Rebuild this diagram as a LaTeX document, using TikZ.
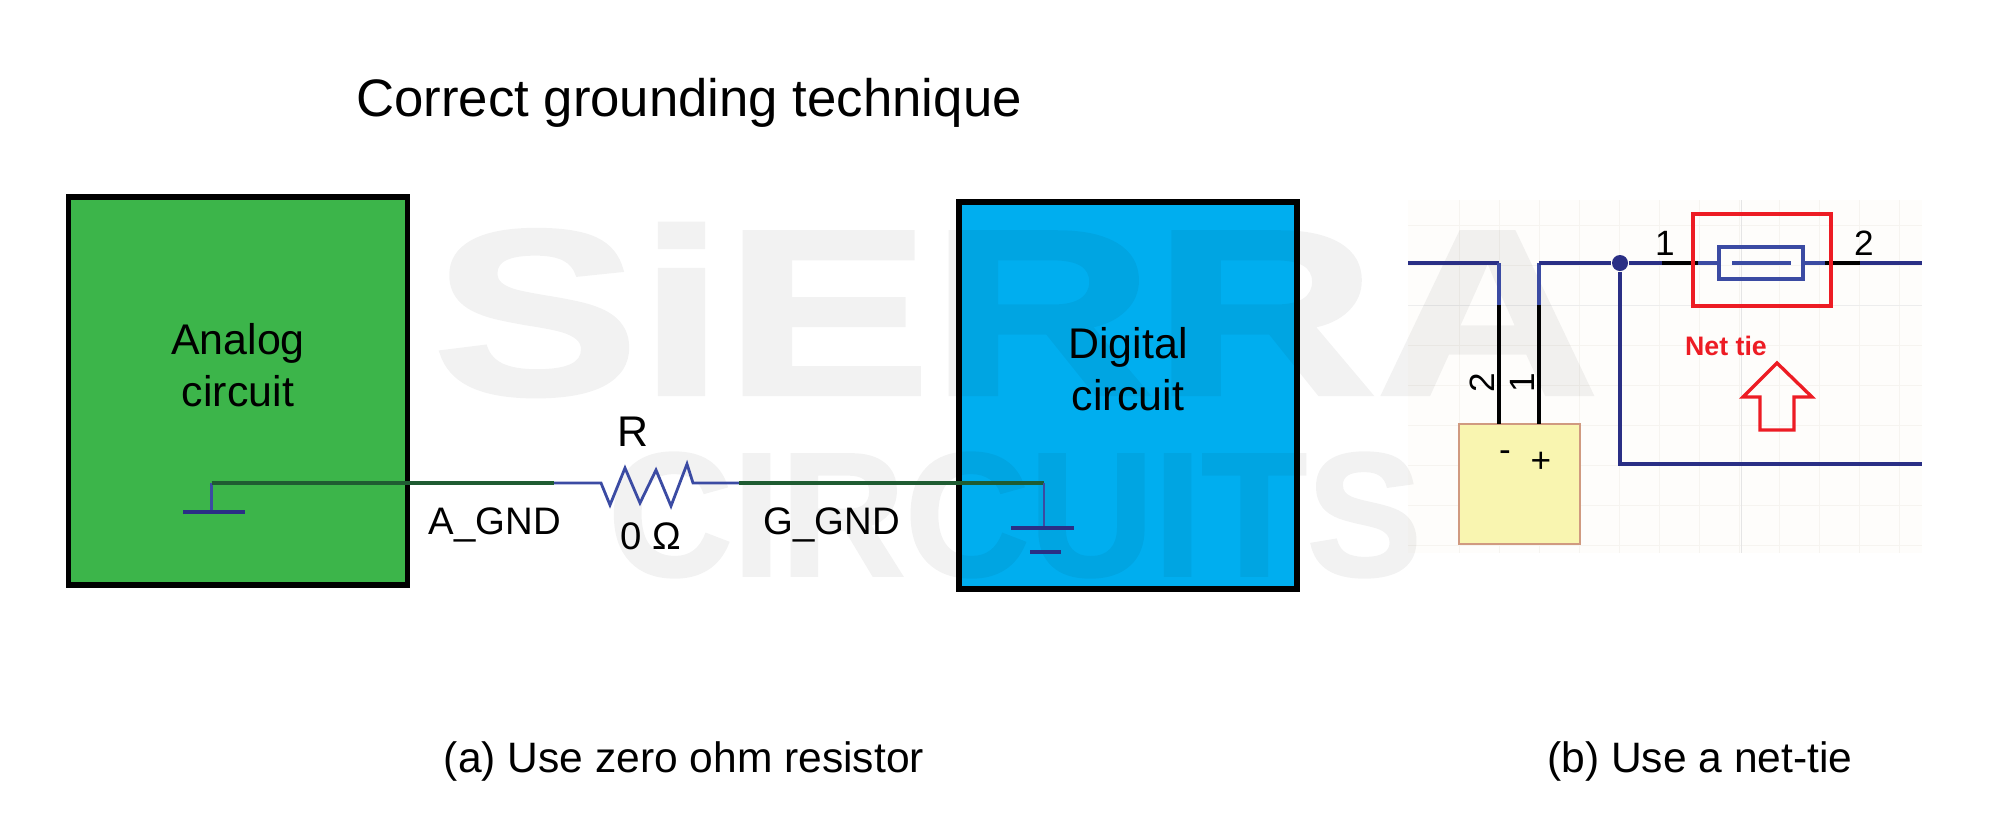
\documentclass[tikz,border=0pt]{standalone}
\usepackage{fontspec}
\usepackage{xcolor}
\setmainfont{Liberation Sans}
\newfontfamily\markfont[FakeBold=1.6,UprightFont={* Bold}]{Liberation Sans}
\definecolor{boxgreen}{HTML}{3CB54A}
\definecolor{boxblue}{HTML}{00AEEF}
\definecolor{wiregreen}{HTML}{1F5C32}
\definecolor{wireblue}{HTML}{3B4BA3}
\definecolor{navy}{HTML}{2A2F85}
\definecolor{tiered}{HTML}{ED1C24}
\definecolor{partyellow}{HTML}{F9F5B0}
\definecolor{parttan}{HTML}{D09A80}
\definecolor{panelbg}{HTML}{FEFDFB}
\definecolor{panelgrid}{HTML}{F6F4F0}
\begin{document}
\begin{tikzpicture}[x=0.01cm, y=-0.01cm,
    blockbox/.style={draw=black, line width=1.5pt, outer sep=0pt, inner sep=0pt},
    bodytext/.style={font=\fontsize{12.2}{14.6}\selectfont, inner sep=0pt, align=center},
    nettext/.style={font=\fontsize{10.9}{13}\selectfont, inner sep=0pt},
    pintext/.style={font=\fontsize{10}{12}\selectfont, inner sep=0pt},
    watermark/.style={inner sep=0pt, transform shape},
    gwire/.style={wiregreen, line width=0.9pt},
    bwire/.style={wireblue, line width=0.8pt, line join=miter},
    nwire/.style={navy, line width=1.1pt},
    lwire/.style={wireblue, line width=1.1pt},
    kwire/.style={black, line width=1pt}]
    \useasboundingbox (0,0) rectangle (1996,835);

    % Blocks
    \node[blockbox, fill=boxgreen, minimum width=3.39cm, minimum height=3.88cm] (analog) at (238,391) {};
    \node[blockbox, fill=boxblue, minimum width=3.38cm, minimum height=3.87cm] (digital) at (1128,395.5) {};

    % Schematic panel
    \fill[panelbg] (1408,200) rectangle (1922,553);
    \foreach \x in {1459,1499,...,1899}
        \draw[panelgrid, line width=0.25pt] (\x,200) -- (\x,553);
    \foreach \y in {225,265,...,545}
        \draw[panelgrid, line width=0.25pt] (1408,\y) -- (1922,\y);
    \draw[black!10, line width=0.25pt] (1741,200) -- (1741,553);
    \draw[black!7, line width=0.25pt] (1408,305) -- (1922,305);

    % Background lettering
    \begin{scope}[transparency group, opacity=0.05]
        \node[watermark, xscale=1.31, font=\fontsize{67}{67}\markfont] (sierra) at (1016,310) {SiERRA};
        \node[watermark, xscale=0.98, font=\fontsize{50}{50}\markfont] (circuits) at (1015,515) {CIRCUITS};
    \end{scope}

    % Texts
    \node[font=\fontsize{15}{18}\selectfont, inner sep=0pt] (title) at (689,103) {Correct grounding technique};
    \node[bodytext] (analogtext) at (238,365) {Analog\\circuit};
    \node[bodytext] (digitaltext) at (1128,369) {Digital\\circuit};
    \node[bodytext] (rname) at (633,432) {R};
    \node[nettext] (rvalue) at (651,536) {0 Ω};
    \node[nettext] (agndtext) at (495,525) {A\_GND};
    \node[nettext] (ggndtext) at (832,525) {G\_GND};
    \node[bodytext, font=\fontsize{12.1}{14.6}\selectfont] (capa) at (684,761) {(a) Use zero ohm resistor};
    \node[bodytext, font=\fontsize{12.1}{14.6}\selectfont] (capb) at (1700,761) {(b) Use a net-tie};

    % Zero ohm link
    \coordinate (agnd) at (211.5,483);
    \coordinate (agndbar) at (211.5,512);
    \coordinate (rleft) at (554,483);
    \coordinate (rstart) at (601,483);
    \coordinate (rend) at (693,483);
    \coordinate (rright) at (739,483);
    \coordinate (dgnd) at (1044,483);
    \coordinate (dgndbar) at (1044,528);
    \draw[bwire] (agnd) -- (agndbar);
    \draw[nwire] (183,512) -- (245,512);
    \draw[gwire] (agnd) -- (rleft);
    \draw[bwire] (rleft) -- (rstart) -- (610,505) -- (625,468) -- (640,503) -- (656,470) -- (671,506) -- (687,464) -- (rend) -- (rright);
    \draw[gwire] (rright) -- (dgnd);
    \draw[bwire] (dgnd) -- (dgndbar);
    \draw[nwire] (1011,528) -- (1074,528);
    \draw[nwire] (1030,552) -- (1061,552);

    % Net tie schematic
    \node[draw=parttan, fill=partyellow, line width=0.4pt, minimum width=1.21cm, minimum height=1.20cm, inner sep=0pt, outer sep=0pt] (part) at (1519.5,484) {};
    \coordinate (pintwo) at (1499,424);
    \coordinate (pinone) at (1539,424);
    \coordinate (bendtwo) at (1499,263);
    \coordinate (bendone) at (1539,263);
    \coordinate (midtwo) at (1499,305);
    \coordinate (midone) at (1539,305);
    \coordinate (leftend) at (1408,263);
    \coordinate (dotbase) at (1620,263);
    \coordinate (rightend) at (1922,263);
    \coordinate (lowbend) at (1620,464);
    \coordinate (lowend) at (1922,464);
    \node[circle, fill=navy, minimum size=0.16cm, inner sep=0pt] (junction) at (dotbase) {};
    \draw[nwire] (leftend) -- (bendtwo);
    \draw[lwire] (bendtwo) -- (midtwo);
    \draw[kwire] (midtwo) -- (pintwo);
    \draw[kwire] (midone) -- (pinone);
    \draw[lwire] (midone) -- (bendone);
    \draw[nwire] (bendone) -- (junction);
    \draw[nwire] (junction) -- (lowbend) -- (lowend);

    % Net tie part
    \node[draw=wireblue, line width=1.2pt, minimum width=0.84cm, minimum height=0.32cm, inner sep=0pt, outer sep=0pt] (tie) at (1761,263) {};
    \draw[nwire] (junction) -- (1662,263);
    \draw[kwire] (1662,263) -- (1698,263);
    \draw[lwire] (1698,263) -- (tie);
    \draw[lwire] (tie) -- (1825,263);
    \draw[kwire] (1825,263) -- (1860,263);
    \draw[nwire] (1860,263) -- (rightend);
    \draw[wireblue, line width=1.3pt] (1732,263) -- (1791,263);
    \node[draw=tiered, line width=0.95pt, minimum width=1.38cm, minimum height=0.92cm, inner sep=0pt, outer sep=0pt] (tiebox) at (1762,260) {};
    \node[text=tiered, font=\fontsize{7.6}{9}\bfseries\selectfont, inner sep=0pt] (tielabel) at (1726,346) {Net tie};
    \draw[tiered, line width=0.95pt] (1777,363) -- (1812,397) -- (1794,397) -- (1794,430) -- (1760,430) -- (1760,397) -- (1743,397) -- cycle;

    % Pin labels
    \node[pintext] (tieone) at (1665,243) {1};
    \node[pintext] (tietwo) at (1864,243) {2};
    \node[pintext, rotate=90] (pinlabeltwo) at (1482,383) {2};
    \node[pintext, rotate=90] (pinlabelone) at (1522,383) {1};
    \node[pintext] (minus) at (1505,456) {-};
    \node[pintext] (plus) at (1541,462) {+};
\end{tikzpicture}
\end{document}
